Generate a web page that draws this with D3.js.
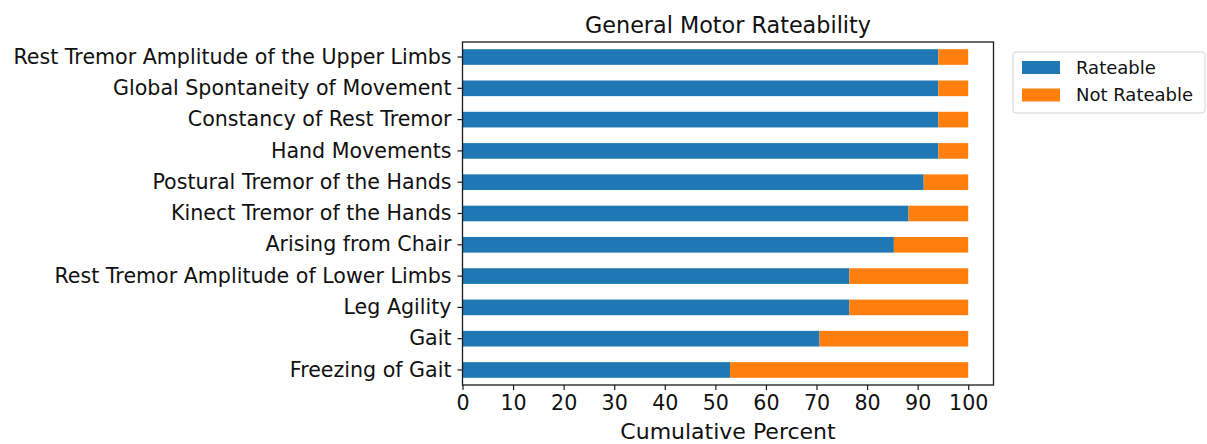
<!DOCTYPE html>
<html>
<head>
<meta charset="utf-8">
<script src="https://cdn.jsdelivr.net/npm/d3@7"></script>
<style>
  html, body { margin: 0; padding: 0; background: #fff; }
  svg { display: block; font-family: "DejaVu Sans", sans-serif; }
</style>
</head>
<body>
<svg id="chart" width="1207" height="444"></svg>
<script>
const categories = [
  "Rest Tremor Amplitude of the Upper Limbs",
  "Global Spontaneity of Movement",
  "Constancy of Rest Tremor",
  "Hand Movements",
  "Postural Tremor of the Hands",
  "Kinect Tremor of the Hands",
  "Arising from Chair",
  "Rest Tremor Amplitude of Lower Limbs",
  "Leg Agility",
  "Gait",
  "Freezing of Gait"
];
const rateable    = [94.1, 94.1, 94.1, 94.1, 91.2, 88.2, 85.3, 76.5, 76.5, 70.6, 52.9];
const notRateable = [5.9, 5.9, 5.9, 5.9, 8.8, 11.8, 14.7, 23.5, 23.5, 29.4, 47.1];
const seriesNames = ["Rateable", "Not Rateable"];
const seriesColors = ["#1f77b4", "#ff7f0e"];
const xTicks = [0, 10, 20, 30, 40, 50, 60, 70, 80, 90, 100];
const titleText = "General Motor Rateability";
const xLabelText = "Cumulative Percent";

const svg = d3.select("#chart");
const frame = { left: 462.5, right: 993.5, top: 42, bottom: 385 };

const x = d3.scaleLinear().domain([0, 105]).range([frame.left, frame.right]);
const y = d3.scaleBand().domain(categories).range([frame.top, frame.bottom])
  .paddingInner(0.5).paddingOuter(0.23);

const rows = categories.map((c, i) => ({ cat: c, vals: [rateable[i], notRateable[i]] }));
const stack = d3.stack().keys([0, 1]).value((d, k) => d.vals[k]);
const stacked = stack(rows);

svg.append("g").selectAll("g").data(stacked).join("g")
  .attr("fill", (d, i) => seriesColors[i])
  .selectAll("rect").data(d => d).join("rect")
  .attr("x", d => x(d[0]))
  .attr("width", d => x(d[1]) - x(d[0]))
  .attr("y", d => y(d.data.cat))
  .attr("height", y.bandwidth());

// frame
svg.append("rect")
  .attr("x", frame.left).attr("y", frame.top)
  .attr("width", frame.right - frame.left).attr("height", frame.bottom - frame.top)
  .attr("fill", "none").attr("stroke", "#1a1a1a").attr("stroke-width", 1.3);

// x axis
const xAxis = d3.axisBottom(x).tickValues(xTicks).tickSize(5).tickPadding(5).tickFormat(d3.format("d"));
const gx = svg.append("g").attr("transform", `translate(0,${frame.bottom})`).call(xAxis);
gx.select(".domain").remove();
gx.selectAll(".tick line").attr("stroke", "#1a1a1a").attr("stroke-width", 1.2);
gx.selectAll(".tick text").attr("font-size", 20.6).attr("fill", "#111")
  .attr("font-family", "DejaVu Sans, sans-serif");

// y axis
const yAxis = d3.axisLeft(y).tickSize(5).tickPadding(6);
const gy = svg.append("g").attr("transform", `translate(${frame.left},0)`).call(yAxis);
gy.select(".domain").remove();
gy.selectAll(".tick line").attr("stroke", "#1a1a1a").attr("stroke-width", 1.2);
gy.selectAll(".tick text").attr("font-size", 20.6).attr("fill", "#111")
  .attr("font-family", "DejaVu Sans, sans-serif");

// title
svg.append("text")
  .attr("x", (frame.left + frame.right) / 2).attr("y", 33)
  .attr("text-anchor", "middle").attr("font-size", 22.3).attr("fill", "#111")
  .text(titleText);

// x label
svg.append("text")
  .attr("x", (frame.left + frame.right) / 2).attr("y", 438.5)
  .attr("text-anchor", "middle").attr("font-size", 22).attr("fill", "#111")
  .text(xLabelText);

// legend
const lg = svg.append("g");
lg.append("rect")
  .attr("x", 1013).attr("y", 52).attr("width", 192).attr("height", 61)
  .attr("rx", 3).attr("fill", "#fff").attr("stroke", "#d4d4d4").attr("stroke-width", 1);
seriesNames.forEach((name, i) => {
  const yy = 61 + i * 27.5;
  lg.append("rect").attr("x", 1022).attr("y", yy).attr("width", 38).attr("height", 13)
    .attr("fill", seriesColors[i]);
  lg.append("text").attr("x", 1076).attr("y", yy + 6.5).attr("dy", "0.35em")
    .attr("font-size", 18).attr("fill", "#111").text(name);
});
</script>
</body>
</html>
